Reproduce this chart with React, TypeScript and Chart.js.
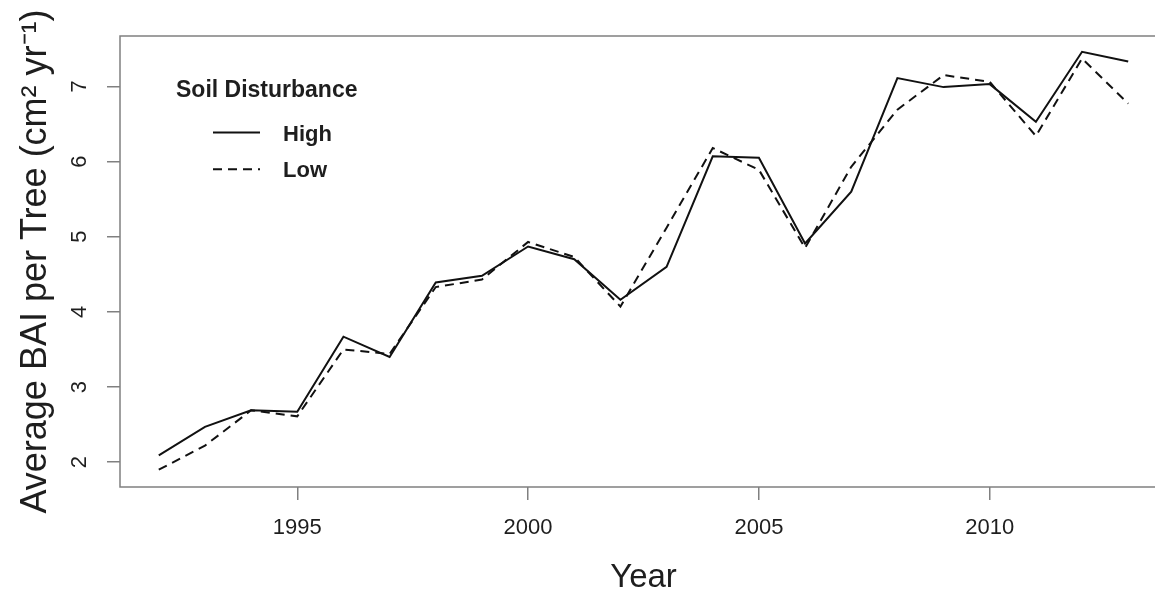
import React, { useEffect, useRef } from "react";
import { Chart, registerables } from "chart.js";

Chart.register(...registerables);

const years = [1992, 1993, 1994, 1995, 1996, 1997, 1998, 1999, 2000, 2001, 2002, 2003, 2004, 2005, 2006, 2007, 2008, 2009, 2010, 2011, 2012, 2013];
const highBAI = [2.09, 2.47, 2.69, 2.67, 3.67, 3.40, 4.39, 4.48, 4.87, 4.70, 4.16, 4.60, 6.07, 6.05, 4.91, 5.60, 7.11, 6.99, 7.03, 6.53, 7.46, 7.33];
const lowBAI = [1.90, 2.22, 2.69, 2.61, 3.50, 3.44, 4.33, 4.43, 4.93, 4.73, 4.07, 5.12, 6.18, 5.89, 4.85, 5.93, 6.69, 7.15, 7.06, 6.34, 7.37, 6.77];
const xTicks = [1995, 2000, 2005, 2010];
const yTicks = [2, 3, 4, 5, 6, 7];
const seriesNames = ["High", "Low"];
const legendTitle = "Soil Disturbance";
const xTitle = "Year";
const yTitle = "Average BAI per Tree (cm² yr⁻¹)";

const FAMILY = '"Liberation Sans", Arial, Helvetica, sans-serif';
const AXIS_GRAY = "#808080";
const TEXT = "#1e1e1e";

const boxPlugin = {
  id: "rBox",
  beforeDatasetsDraw(chart: any) {
    const { ctx, chartArea } = chart;
    ctx.save();
    ctx.strokeStyle = AXIS_GRAY;
    ctx.lineWidth = 1.5;
    ctx.beginPath();
    ctx.moveTo(chartArea.right, chartArea.top);
    ctx.lineTo(chartArea.left, chartArea.top);
    ctx.lineTo(chartArea.left, chartArea.bottom);
    ctx.lineTo(chartArea.right, chartArea.bottom);
    ctx.stroke();
    ctx.restore();
  },
};

const legendPlugin = {
  id: "rLegend",
  afterDatasetsDraw(chart: any) {
    const ctx = chart.ctx;
    ctx.save();
    ctx.fillStyle = TEXT;
    ctx.textBaseline = "alphabetic";
    ctx.textAlign = "left";
    ctx.font = `bold 23px ${FAMILY}`;
    ctx.fillText(legendTitle, 176, 97);
    chart.data.datasets.forEach((ds: any, i: number) => {
      const y = 132.5 + i * 36.7;
      ctx.beginPath();
      ctx.setLineDash(ds.borderDash || []);
      ctx.lineWidth = ds.borderWidth;
      ctx.strokeStyle = ds.borderColor;
      ctx.moveTo(213, y);
      ctx.lineTo(260, y);
      ctx.stroke();
      ctx.setLineDash([]);
      ctx.font = `bold 22px ${FAMILY}`;
      ctx.fillText(ds.label, 283, y + 8.2);
    });
    ctx.restore();
  },
};

export default function App() {
  const canvasRef = useRef<HTMLCanvasElement | null>(null);

  useEffect(() => {
    const canvas = canvasRef.current;
    if (!canvas) return;
    const chart = new Chart(canvas, {
      type: "line",
      data: {
        datasets: [
          {
            label: seriesNames[0],
            data: years.map((yr, i) => ({ x: yr, y: highBAI[i] })),
            borderColor: "#111111",
            borderWidth: 2,
            pointRadius: 0,
            tension: 0,
            fill: false,
          },
          {
            label: seriesNames[1],
            data: years.map((yr, i) => ({ x: yr, y: lowBAI[i] })),
            borderColor: "#111111",
            borderWidth: 2,
            borderDash: [9, 6],
            pointRadius: 0,
            tension: 0,
            fill: false,
          },
        ],
      },
      options: {
        responsive: false,
        animation: false,
        events: [],
        layout: { padding: { top: 36, right: 33, left: 0, bottom: 0 } },
        plugins: {
          legend: { display: false },
          tooltip: { enabled: false },
        },
        scales: {
          x: {
            type: "linear",
            min: 1991.16,
            max: 2013.84,
            afterBuildTicks: (s: any) => {
              s.ticks = xTicks.map((v) => ({ value: v }));
            },
            afterFit: (s: any) => {
              s.height = 107;
            },
            grid: { display: true, drawOnChartArea: false, drawTicks: true, tickLength: 13, color: AXIS_GRAY, lineWidth: 1.5 },
            border: { display: false },
            ticks: {
              font: { size: 22, family: FAMILY },
              color: TEXT,
              padding: 15,
              maxRotation: 0,
              autoSkip: false,
              callback: (v: any) => String(v),
            },
            title: {
              display: true,
              text: xTitle,
              color: TEXT,
              font: { size: 33, family: FAMILY, lineHeight: 1 },
              padding: 0,
            },
          },
          y: {
            type: "linear",
            min: 1.67,
            max: 7.67,
            afterBuildTicks: (s: any) => {
              s.ticks = yTicks.map((v) => ({ value: v }));
            },
            afterFit: (s: any) => {
              s.width = 120;
            },
            grid: { display: true, drawOnChartArea: false, drawTicks: true, tickLength: 13, color: AXIS_GRAY, lineWidth: 1.5 },
            border: { display: false },
            ticks: {
              font: { size: 22, family: FAMILY },
              color: TEXT,
              padding: 21,
              minRotation: 90,
              maxRotation: 90,
              crossAlign: "center",
              autoSkip: false,
              callback: (v: any) => String(v),
            },
            title: {
              display: true,
              text: yTitle,
              color: TEXT,
              font: { size: 36, family: FAMILY, lineHeight: 1 },
              padding: { top: 18, bottom: 0 },
            },
          },
        },
      },
      plugins: [boxPlugin, legendPlugin],
    } as any);
    return () => chart.destroy();
  }, []);

  return (
    <div style={{ position: "fixed", left: 0, top: 0, width: 1155, height: 594, overflow: "hidden", background: "#ffffff" }}>
      <canvas ref={canvasRef} width={1200} height={594} style={{ display: "block", width: 1200, height: 594 }} />
    </div>
  );
}
